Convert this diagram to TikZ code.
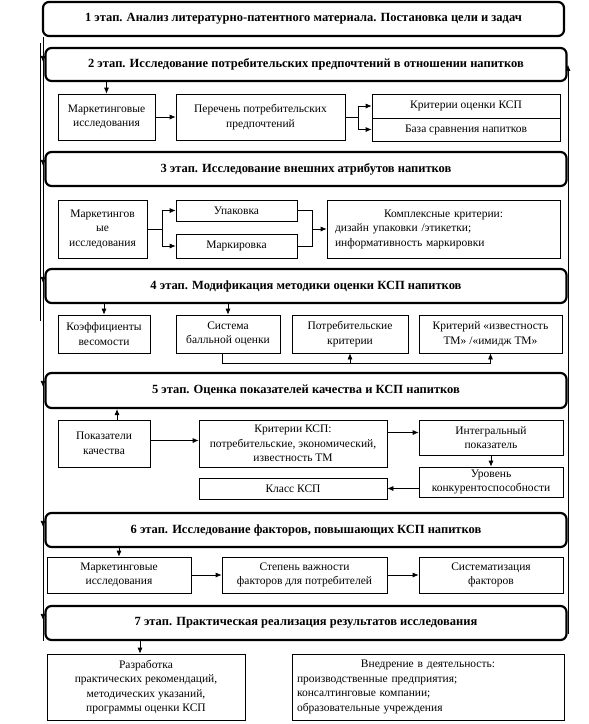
\documentclass[tikz,border=0pt]{standalone}
\usepackage{fontspec}
\setmainfont{Liberation Serif}
\usetikzlibrary{arrows.meta,calc}
\begin{document}
\begin{tikzpicture}[x=1pt,y=-1pt,
  stage/.style={draw, line width=2.2pt, rounded corners=6pt, inner sep=0pt, minimum width=521pt, minimum height=34pt, font=\bfseries\fontsize{12.5}{14}\selectfont},
  box/.style={draw, line width=0.7pt, inner sep=0pt, align=center, font=\fontsize{11.5}{14.5}\selectfont},
  arr/.style={-{Latex[length=6pt,width=5pt]}, line width=0.7pt},
  ln/.style={line width=0.7pt}]
\useasboundingbox (0,0) rectangle (589,724);
\fill[white] (0,0) rectangle (589,724);

% stages
\node[stage] (s1) at (303.5,19) {1 этап. Анализ литературно-патентного материала. Постановка цели и задач};
\node[stage, minimum height=33pt] (s2) at (306,64.5) {2 этап. Исследование потребительских предпочтений в отношении напитков};
\node[stage] (s3) at (306,169) {3 этап. Исследование внешних атрибутов напитков};
\node[stage] (s4) at (306,286) {4 этап. Модификация методики оценки КСП напитков};
\node[stage, minimum height=35pt] (s5) at (306,390.5) {5 этап. Оценка показателей качества и КСП напитков};
\node[stage] (s6) at (306,530) {6 этап. Исследование факторов, повышающих КСП напитков};
\node[stage] (s7) at (306,623) {7 этап. Практическая реализация результатов исследования};

% row 2
\node[box, minimum width=97pt, minimum height=46pt] (m2) at (106.5,117) {Маркетинговые\\исследования};
\node[box, minimum width=169pt, minimum height=46pt] (p2) at (260.5,117) {Перечень потребительских\\предпочтений};
\node[box, minimum width=188pt, minimum height=24pt] (k2a) at (466,106) {Критерии оценки КСП};
\node[box, minimum width=188pt, minimum height=23pt] (k2b) at (466,129.5) {База сравнения напитков};

% row 3
\node[box, minimum width=89pt, minimum height=58pt] (m3) at (102.5,229) {Маркетингов\\ые\\исследования};
\node[box, minimum width=121pt, minimum height=21pt] (u3) at (236.5,210.5) {Упаковка};
\node[box, minimum width=121pt, minimum height=24pt] (r3) at (236.5,246) {Маркировка};
\node[box, minimum width=233pt, minimum height=58pt, text width=217pt, align=left] (c3) at (443.5,229) {\makebox[217pt][c]{Комплексные критерии:}\\дизайн упаковки /этикетки;\\информативность маркировки};

% row 4
\node[box, minimum width=92pt, minimum height=38pt] (a4) at (104,334) {Коэффициенты\\весомости};
\node[box, minimum width=104pt, minimum height=38pt] (b4) at (228,334) {Система\\балльной оценки};
\node[box, minimum width=116pt, minimum height=38pt] (c4) at (350,334) {Потребительские\\критерии};
\node[box, minimum width=143pt, minimum height=38pt] (d4) at (490.5,334) {Критерий «известность\\ТМ» /«имидж ТМ»};

% row 5
\node[box, minimum width=92pt, minimum height=47pt] (a5) at (104,443.5) {Показатели\\качества};
\node[box, minimum width=188pt, minimum height=47pt] (b5) at (293,443.5) {Критерии КСП:\\потребительские, экономический,\\известность ТМ};
\node[box, minimum width=144pt, minimum height=35pt] (c5) at (491,437.5) {Интегральный\\показатель};
\node[box, minimum width=144pt, minimum height=30pt] (d5) at (491,482) {Уровень\\конкурентоспособности};
\node[box, minimum width=188pt, minimum height=21pt] (e5) at (293,488.5) {Класс КСП};

% row 6
\node[box, minimum width=144pt, minimum height=36pt] (a6) at (119,575) {Маркетинговые\\исследования};
\node[box, minimum width=165pt, minimum height=36pt] (b6) at (304.5,575) {Степень важности\\факторов для потребителей};
\node[box, minimum width=144pt, minimum height=36pt] (c6) at (491,575) {Систематизация\\факторов};

% row 7
\node[box, minimum width=198pt, minimum height=66pt] (a7) at (146,687) {Разработка\\практических рекомендаций,\\методических указаний,\\программы оценки КСП};
\node[box, minimum width=272pt, minimum height=66pt, text width=262pt, align=left] (b7) at (428,687) {\makebox[262pt][c]{Внедрение в деятельность:}\\производственные предприятия;\\консалтинговые компании;\\образовательные учреждения};

% connectors row 2
\draw[arr] (s2.south -| m2.north) -- (m2.north);
\draw[arr] (m2.east) -- (p2.west);
\coordinate (f2) at (358,117);
\draw[ln] (p2.east) -- (f2);
\draw[arr] (f2) |- (k2a.west);
\draw[arr] (f2) |- (k2b.west);

% row 3
\coordinate (f3) at (162,229);
\draw[ln] (m3.east) -- (f3);
\draw[arr] (f3) |- (u3.west);
\draw[arr] (f3) |- (r3.west);
\coordinate (j3) at (312,229);
\draw[ln] (u3.east) -| (j3);
\draw[ln] (r3.east) -| (j3);
\draw[arr] (j3) -- (c3.west);

% row 4
\draw[arr] (s4.south -| a4.north) -- (a4.north);
\draw[arr] (s4.south -| b4.north) -- (b4.north);
\coordinate (q4) at (222,363);
\draw[ln] (b4.south -| q4) -- (q4) -- (q4 -| d4.south);
\draw[arr] (q4 -| c4.south) -- (c4.south);
\draw[arr] (q4 -| d4.south) -- (d4.south);

% row 5
\draw[arr] ($(a5.north)+(13,0)$) -- ($(a5.north |- s5.south)+(13,0)$);
\draw[arr] ($(a5.east)+(0,-3)$) -- ($(a5.east -| b5.west)+(0,-3)$);
\draw[arr] ($(c5.west -| b5.east)+(0,-5)$) -- ($(c5.west)+(0,-5)$);
\draw[arr] (c5.south) -- (d5.north);
\draw[arr] (d5.west |- e5.east) -- (e5.east);

% row 6
\draw[arr] (s6.south -| a6.north) -- (a6.north);
\draw[arr] (a6.east) -- (b6.west);
\draw[arr] (b6.east) -- (c6.west);

% row 7
\draw[arr] ($(s7.south -| a7.north)+(-6,0)$) -- ($(a7.north)+(-6,0)$);

% left line
\coordinate (L) at (43,0);
\draw[ln] (s1.south -| L) -- (s7.south -| L);
\draw[ln] ($(s1.south -| L)+(-2.5,6)$) -- ($(s4.south -| L)+(-2.5,17)$);
\foreach \s in {s2,s3,s4,s5,s6,s7}{
  \draw[arr] ($(\s.north -| L)+(0,4)$) -- ($(\s.north -| L)+(0,15)$);
}

% right line
\coordinate (R) at (568,0);
\draw[arr] ($(s7.south -| R)+(0,-7)$) -- ($(s2.north -| R)+(0,18)$);
\end{tikzpicture}
\end{document}
